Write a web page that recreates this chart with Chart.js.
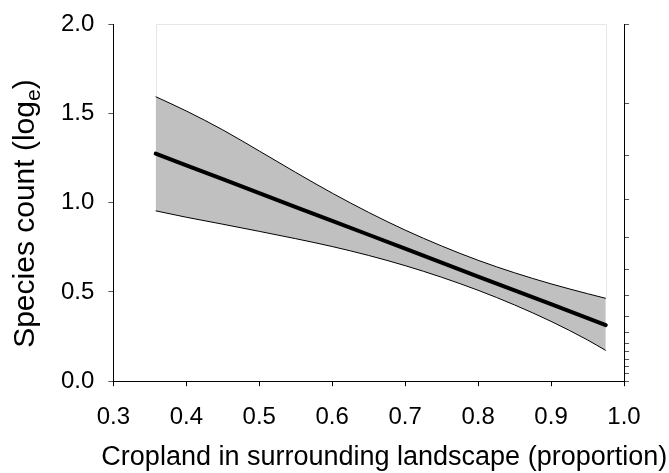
<!DOCTYPE html>
<html lang="en">
<head>
    <meta charset="UTF-8">
    <title>Species count vs cropland</title>
    <script src="https://cdn.jsdelivr.net/npm/chart.js"></script>
    <style>
        body {
            margin: 0;
            background-color: #fff;
        }
        .chart-container {
            width: 669px;
            height: 473px;
        }
    </style>
</head>
<body>
    <div class="chart-container">
        <canvas id="speciesChart"></canvas>
    </div>
    <script>
        // proportion of cropland (x) and fitted values on the log scale
        const cropland = [0.358, 0.40, 0.45, 0.50, 0.55, 0.60, 0.65, 0.70, 0.75, 0.80, 0.85, 0.90, 0.95, 0.975];
        const fitted   = [1.274, 1.209, 1.131, 1.053, 0.975, 0.898, 0.820, 0.742, 0.664, 0.586, 0.508, 0.431, 0.353, 0.314];
        const upperCI  = [1.593, 1.513, 1.407, 1.289, 1.169, 1.053, 0.945, 0.846, 0.757, 0.677, 0.607, 0.545, 0.490, 0.464];
        const lowerCI  = [0.954, 0.918, 0.879, 0.839, 0.798, 0.754, 0.704, 0.647, 0.582, 0.509, 0.427, 0.335, 0.231, 0.172];

        const xTicks = [0.3, 0.4, 0.5, 0.6, 0.7, 0.8, 0.9, 1.0];
        const yTicks = [0.0, 0.5, 1.0, 1.5, 2.0];
        // unlabelled ticks on the right-hand axis
        const rightTicks = [0.0, 0.045, 0.084, 0.123, 0.168, 0.213, 0.275, 0.364, 0.482, 0.627, 0.807, 1.020, 1.266, 1.557, 2.0];

        const xTitle = 'Cropland in surrounding landscape (proportion)';
        const yTitle = ['Species count (log', 'e', ')'];

        const FONT = "'Liberation Sans', Arial, sans-serif";

        const toPoints = arr => arr.map((v, i) => ({ x: cropland[i], y: v }));

        // faint frame around the fitted range, only visible above the band
        const frameBox = {
            id: 'frameBox',
            beforeDatasetsDraw(chart) {
                const { ctx, scales: { x, y } } = chart;
                const x0 = Math.round(x.getPixelForValue(cropland[0])) + 0.5;
                const x1 = Math.round(x.getPixelForValue(cropland[cropland.length - 1])) + 0.5;
                const top = Math.round(y.getPixelForValue(y.max)) + 0.5;
                ctx.save();
                ctx.strokeStyle = '#e6e6e6';
                ctx.lineWidth = 1;
                ctx.beginPath();
                ctx.moveTo(x0, y.getPixelForValue(upperCI[0]));
                ctx.lineTo(x0, top);
                ctx.lineTo(x1, top);
                ctx.lineTo(x1, y.getPixelForValue(upperCI[upperCI.length - 1]));
                ctx.stroke();
                ctx.restore();
            }
        };

        // axis titles drawn by hand: the x title is wider than the plot and
        // chart.js would squeeze it; the y title needs a subscript e
        const axisTitles = {
            id: 'axisTitles',
            afterDraw(chart) {
                const { ctx, chartArea } = chart;
                ctx.save();
                ctx.fillStyle = '#000';
                ctx.textBaseline = 'alphabetic';

                ctx.font = '27px ' + FONT;
                ctx.textAlign = 'left';
                ctx.fillText(xTitle, chartArea.left - 12, chartArea.bottom + 84);

                const big = '30px ' + FONT;
                const small = '21px ' + FONT;
                ctx.font = big;
                const w0 = ctx.measureText(yTitle[0]).width;
                const w2 = ctx.measureText(yTitle[2]).width;
                ctx.font = small;
                const w1 = ctx.measureText(yTitle[1]).width;
                const total = w0 + w1 + w2;
                const cy = (chartArea.top + chartArea.bottom) / 2 + 11;
                ctx.translate(34, cy);
                ctx.rotate(-Math.PI / 2);
                let px = -total / 2;
                ctx.font = big;
                ctx.fillText(yTitle[0], px, 0);
                px += w0;
                ctx.font = small;
                ctx.fillText(yTitle[1], px, 6);
                px += w1;
                ctx.font = big;
                ctx.fillText(yTitle[2], px, 0);
                ctx.restore();
            }
        };

        const ctx = document.getElementById('speciesChart').getContext('2d');
        const chart = new Chart(ctx, {
            type: 'line',
            data: {
                datasets: [
                    {
                        data: toPoints(fitted),
                        borderColor: '#000',
                        borderWidth: 4,
                        borderCapStyle: 'round',
                        pointRadius: 0,
                        fill: false
                    },
                    {
                        data: toPoints(upperCI),
                        borderColor: '#000',
                        borderWidth: 1,
                        pointRadius: 0,
                        cubicInterpolationMode: 'monotone',
                        backgroundColor: '#c0c0c0',
                        fill: '+1'
                    },
                    {
                        data: toPoints(lowerCI),
                        borderColor: '#000',
                        borderWidth: 1,
                        pointRadius: 0,
                        cubicInterpolationMode: 'monotone',
                        fill: false
                    }
                ]
            },
            options: {
                responsive: true,
                maintainAspectRatio: false,
                animation: false,
                layout: {
                    padding: { left: 47, right: 40, top: 24, bottom: 24 }
                },
                plugins: {
                    legend: { display: false },
                    tooltip: { enabled: false },
                    filler: { drawTime: 'beforeDatasetsDraw' }
                },
                scales: {
                    x: {
                        type: 'linear',
                        min: xTicks[0],
                        max: xTicks[xTicks.length - 1],
                        afterBuildTicks: axis => { axis.ticks = xTicks.map(v => ({ value: v })); },
                        ticks: {
                            callback: v => v.toFixed(1),
                            color: '#000',
                            font: { family: FONT, size: 24 },
                            padding: 17,
                            maxRotation: 0
                        },
                        grid: {
                            drawOnChartArea: false,
                            tickLength: 5,
                            tickColor: '#000'
                        },
                        border: { color: '#000', width: 1 }
                    },
                    y: {
                        min: yTicks[0],
                        max: yTicks[yTicks.length - 1],
                        afterBuildTicks: axis => { axis.ticks = yTicks.map(v => ({ value: v })); },
                        afterFit: axis => { axis.paddingTop = 0; axis.paddingBottom = 0; },
                        ticks: {
                            callback: v => v.toFixed(1),
                            color: '#000',
                            font: { family: FONT, size: 24 },
                            padding: 14
                        },
                        grid: {
                            drawOnChartArea: false,
                            tickLength: 5,
                            tickColor: '#555'
                        },
                        border: { color: '#000', width: 1 }
                    },
                    y2: {
                        position: 'right',
                        min: yTicks[0],
                        max: yTicks[yTicks.length - 1],
                        afterBuildTicks: axis => { axis.ticks = rightTicks.map(v => ({ value: v })); },
                        afterFit: axis => { axis.paddingTop = 0; axis.paddingBottom = 0; },
                        ticks: {
                            callback: () => '',
                            padding: 0,
                            autoSkip: false
                        },
                        grid: {
                            drawOnChartArea: false,
                            tickLength: 5,
                            tickColor: '#555'
                        },
                        border: { color: '#000', width: 1 }
                    }
                }
            },
            plugins: [frameBox, axisTitles]
        });
    </script>
</body>
</html>
